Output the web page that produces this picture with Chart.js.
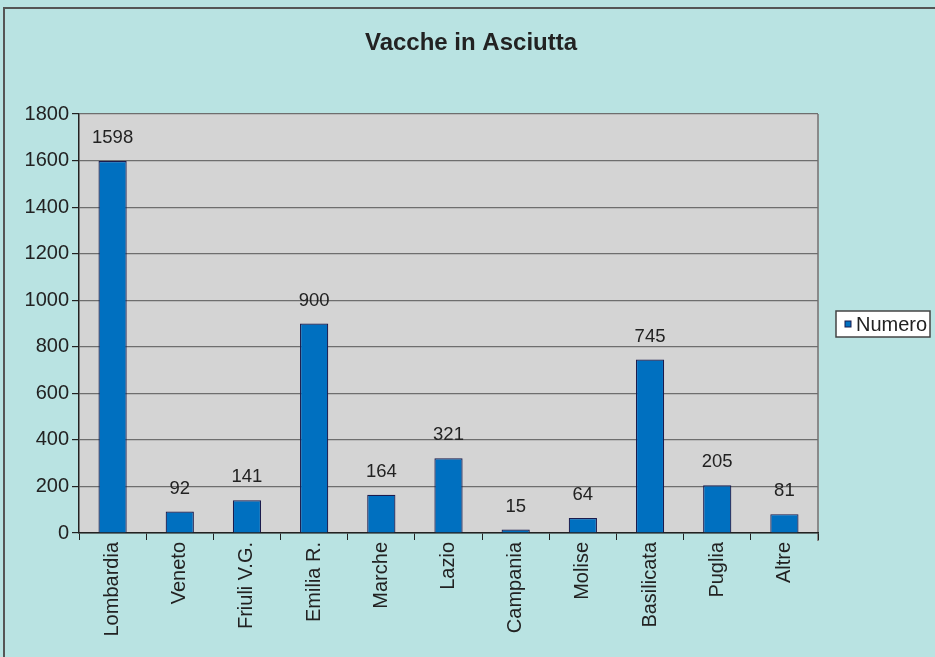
<!DOCTYPE html>
<html>
<head>
<meta charset="utf-8">
<script src="https://cdn.jsdelivr.net/npm/chart.js@4.4.0/dist/chart.umd.min.js"></script>
<style>
  html, body { margin: 0; padding: 0; background: #b9e3e2; }
  #wrap { position: relative; width: 935px; height: 657px; }
  #frame { position: absolute; left: 3px; top: 7px; right: 0; bottom: 0;
           border-left: 2px solid #555; border-top: 2px solid #555; }
  canvas { position: absolute; left: 0; top: 0; }
</style>
</head>
<body>
<div id="wrap">
  <div id="frame"></div>
  <canvas id="grafico" width="935" height="657"></canvas>
</div>
<script>
const regioni = ['Lombardia', 'Veneto', 'Friuli V.G.', 'Emilia R.', 'Marche', 'Lazio', 'Campania', 'Molise', 'Basilicata', 'Puglia', 'Altre'];
const numero = [1598, 92, 141, 900, 164, 321, 15, 64, 745, 205, 81];
const tickY = [0, 200, 400, 600, 800, 1000, 1200, 1400, 1600, 1800];
const titolo = 'Vacche in Asciutta';

const FONT = "'Liberation Sans', Arial, sans-serif";

// sfondo grigio dell'area del grafico + bordo destro
const sfondoArea = {
  id: 'sfondoArea',
  beforeDraw(chart) {
    const { ctx, chartArea: a } = chart;
    ctx.save();
    ctx.fillStyle = '#d4d4d4';
    ctx.fillRect(a.left, a.top, a.right - a.left, a.bottom - a.top);
    ctx.strokeStyle = '#8a8a8a';
    ctx.lineWidth = 2;
    ctx.beginPath();
    ctx.moveTo(a.right, a.top);
    ctx.lineTo(a.right, a.bottom + 8);
    ctx.stroke();
    ctx.restore();
  }
};

// titolo centrato sulla pagina intera
const titoloPlugin = {
  id: 'titoloPlugin',
  afterDraw(chart) {
    const { ctx } = chart;
    ctx.save();
    ctx.font = 'bold 24px ' + FONT;
    ctx.fillStyle = '#222';
    ctx.textAlign = 'center';
    ctx.textBaseline = 'middle';
    ctx.fillText(titolo, 471, 43);
    ctx.restore();
  }
};

// etichette sopra le barre
const etichette = {
  id: 'etichette',
  afterDatasetsDraw(chart) {
    const { ctx } = chart;
    const meta = chart.getDatasetMeta(0);
    ctx.save();
    ctx.font = '18.5px ' + FONT;
    ctx.fillStyle = '#222';
    ctx.textAlign = 'center';
    ctx.textBaseline = 'middle';
    meta.data.forEach((bar, i) => {
      ctx.fillText(String(numero[i]), bar.x, bar.y - 23);
    });
    ctx.restore();
  }
};

// legenda a destra
const legenda = {
  id: 'legenda',
  afterDraw(chart) {
    const { ctx } = chart;
    ctx.save();
    ctx.fillStyle = '#ffffff';
    ctx.fillRect(836, 311, 94, 26);
    ctx.strokeStyle = '#444';
    ctx.lineWidth = 1.5;
    ctx.strokeRect(836, 311, 94, 26);
    ctx.fillStyle = '#0070c0';
    ctx.fillRect(845, 321, 6, 6);
    ctx.strokeStyle = '#1b1b4d';
    ctx.lineWidth = 1;
    ctx.strokeRect(845, 321, 6, 6);
    ctx.font = '20px ' + FONT;
    ctx.fillStyle = '#222';
    ctx.textBaseline = 'middle';
    ctx.fillText(chart.data.datasets[0].label, 856, 325);
    ctx.restore();
  }
};

new Chart(document.getElementById('grafico'), {
  type: 'bar',
  data: {
    labels: regioni,
    datasets: [{
      label: 'Numero',
      data: numero,
      backgroundColor: '#0070c0',
      borderColor: '#1b1b4d',
      borderWidth: 1.2,
      categoryPercentage: 1,
      barPercentage: 0.42
    }]
  },
  options: {
    responsive: false,
    animation: false,
    layout: { padding: { top: 114, right: 117, bottom: 0, left: 0 } },
    plugins: {
      legend: { display: false },
      tooltip: { enabled: false },
      title: { display: false }
    },
    scales: {
      x: {
        afterFit(scale) { scale.height = 124; },
        grid: { display: true, drawOnChartArea: false, offset: true, tickLength: 7, color: '#222' },
        border: { color: '#222', width: 1.5 },
        ticks: {
          color: '#222',
          font: { family: FONT, size: 20 },
          minRotation: 90,
          maxRotation: 90,
          padding: 2
        }
      },
      y: {
        min: 0,
        max: 1800,
        afterFit(scale) { scale.width = 79; },
        afterBuildTicks(scale) { scale.ticks = tickY.map(v => ({ value: v })); },
        grid: { color: '#6e6e6e', lineWidth: 1.2, tickLength: 7, tickColor: '#222' },
        border: { color: '#222', width: 1.5 },
        ticks: {
          color: '#222',
          font: { family: FONT, size: 20 },
          padding: 3,
          callback: v => String(v)
        }
      }
    }
  },
  plugins: [sfondoArea, etichette, legenda, titoloPlugin]
});
</script>
</body>
</html>
